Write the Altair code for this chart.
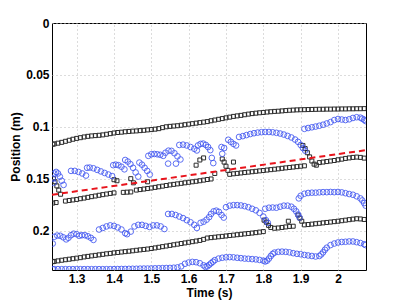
import altair as alt
import pandas as pd

# ---- data (time s, position m) ----
BLACK_TOP = [
    (1.236, 0.1168), (1.24, 0.1165), (1.25, 0.1158), (1.26, 0.1150), (1.27, 0.1140), (1.28, 0.1130),
    (1.29, 0.1120), (1.30, 0.1112), (1.31, 0.1105), (1.32, 0.1098), (1.33, 0.1092), (1.34, 0.1088),
    (1.35, 0.1085), (1.36, 0.1082), (1.37, 0.1078), (1.38, 0.1072), (1.39, 0.1066), (1.40, 0.1060),
    (1.41, 0.1055), (1.42, 0.1052), (1.43, 0.1048), (1.44, 0.1045), (1.45, 0.1042), (1.46, 0.1040),
    (1.47, 0.1037), (1.48, 0.1034), (1.49, 0.1030), (1.50, 0.1027), (1.51, 0.1023), (1.52, 0.1018),
    (1.53, 0.1008), (1.54, 0.1000), (1.55, 0.0996), (1.56, 0.0993), (1.57, 0.0990), (1.58, 0.0985),
    (1.59, 0.0980), (1.60, 0.0975), (1.61, 0.0970), (1.62, 0.0965), (1.63, 0.0960), (1.64, 0.0955),
    (1.65, 0.0950), (1.66, 0.0942), (1.67, 0.0935), (1.68, 0.0928), (1.69, 0.0921), (1.70, 0.0914),
    (1.71, 0.0907), (1.72, 0.0900), (1.73, 0.0895), (1.74, 0.0890), (1.75, 0.0884), (1.76, 0.0878),
    (1.77, 0.0873), (1.78, 0.0869), (1.79, 0.0865), (1.80, 0.0862), (1.81, 0.0858), (1.82, 0.0855),
    (1.83, 0.0852), (1.84, 0.0850), (1.85, 0.0847), (1.86, 0.0844), (1.87, 0.0841), (1.88, 0.0839),
    (1.89, 0.0837), (1.90, 0.0836), (1.91, 0.0835), (1.92, 0.0834), (1.93, 0.0833), (1.94, 0.0832),
    (1.95, 0.0831), (1.96, 0.0831), (1.97, 0.0830), (1.98, 0.0830), (1.99, 0.0829), (2.00, 0.0829),
    (2.01, 0.0828), (2.02, 0.0828), (2.03, 0.0827), (2.04, 0.0827), (2.05, 0.0826), (2.06, 0.0826),
    (2.07, 0.0825),
]

BLACK_MID = [
    (1.236, 0.1735), (1.245, 0.1730),
    (1.27, 0.1716), (1.28, 0.1710), (1.29, 0.1705), (1.30, 0.1700), (1.31, 0.1693), (1.32, 0.1687),
    (1.33, 0.1680), (1.34, 0.1673), (1.35, 0.1667), (1.36, 0.1660), (1.37, 0.1654), (1.38, 0.1648),
    (1.39, 0.1642), (1.40, 0.1637),
    (1.425, 0.1632), (1.435, 0.1630), (1.445, 0.1628),
    (1.46, 0.1610), (1.47, 0.1605), (1.48, 0.1600), (1.49, 0.1595), (1.50, 0.1590), (1.51, 0.1584),
    (1.52, 0.1578), (1.53, 0.1572), (1.54, 0.1566), (1.55, 0.1560), (1.56, 0.1555), (1.57, 0.1550),
    (1.58, 0.1545), (1.59, 0.1540), (1.60, 0.1535), (1.61, 0.1530), (1.62, 0.1525), (1.63, 0.1520),
    (1.64, 0.1514), (1.65, 0.1508), (1.66, 0.1503),
    (1.71, 0.1458), (1.72, 0.1453), (1.73, 0.1449), (1.74, 0.1445), (1.75, 0.1441), (1.76, 0.1437),
    (1.77, 0.1433), (1.78, 0.1429), (1.79, 0.1425), (1.80, 0.1421), (1.81, 0.1417), (1.82, 0.1413),
    (1.83, 0.1409), (1.84, 0.1405), (1.85, 0.1400), (1.86, 0.1396), (1.87, 0.1392), (1.88, 0.1388),
    (1.89, 0.1384), (1.90, 0.1380), (1.91, 0.1376),
    (1.906, 0.1180), (1.912, 0.1210), (1.918, 0.1250), (1.924, 0.1290), (1.930, 0.1330), (1.936, 0.1360),
    (1.942, 0.1370),
    (1.95, 0.1345), (1.96, 0.1340), (1.97, 0.1335), (1.98, 0.1330), (1.99, 0.1325), (2.00, 0.1318),
    (2.01, 0.1312), (2.02, 0.1305), (2.03, 0.1300), (2.04, 0.1295), (2.05, 0.1292), (2.06, 0.1295),
    (2.07, 0.1302),
    # scattered detections
    (1.238, 0.1500), (1.242, 0.1530), (1.247, 0.1570), (1.252, 0.1610), (1.257, 0.1650),
    (1.400, 0.1510), (1.408, 0.1520), (1.445, 0.1500), (1.452, 0.1540), (1.490, 0.1530),
    (1.620, 0.1370), (1.630, 0.1320), (1.640, 0.1300), (1.670, 0.1450),
    (1.690, 0.1310), (1.695, 0.1340), (1.700, 0.1380), (1.705, 0.1420), (1.720, 0.1340),
]

BLACK_LOW = [
    (1.236, 0.2300), (1.24, 0.2297), (1.25, 0.2292), (1.26, 0.2286), (1.27, 0.2281), (1.28, 0.2276),
    (1.29, 0.2271), (1.30, 0.2266), (1.31, 0.2261), (1.32, 0.2254), (1.33, 0.2249), (1.34, 0.2244),
    (1.35, 0.2239), (1.36, 0.2234), (1.37, 0.2229), (1.38, 0.2224), (1.39, 0.2220), (1.40, 0.2215),
    (1.41, 0.2211), (1.42, 0.2207), (1.43, 0.2203), (1.44, 0.2199), (1.45, 0.2195), (1.46, 0.2190),
    (1.47, 0.2186), (1.48, 0.2182), (1.49, 0.2178), (1.50, 0.2173), (1.51, 0.2167), (1.52, 0.2161),
    (1.53, 0.2155), (1.54, 0.2149), (1.55, 0.2143), (1.56, 0.2137), (1.57, 0.2131), (1.58, 0.2125),
    (1.59, 0.2119), (1.60, 0.2113), (1.61, 0.2107), (1.62, 0.2101), (1.63, 0.2095), (1.64, 0.2085),
    (1.65, 0.2072), (1.66, 0.2068), (1.67, 0.2064), (1.68, 0.2060), (1.69, 0.2056), (1.70, 0.2052),
    (1.71, 0.2048), (1.72, 0.2044), (1.73, 0.2040), (1.74, 0.2036), (1.75, 0.2032), (1.76, 0.2028),
    (1.77, 0.2024), (1.78, 0.2020), (1.79, 0.2015), (1.80, 0.2010),
    (1.802, 0.1900), (1.808, 0.1920), (1.814, 0.1950), (1.820, 0.1970),
    (1.83, 0.1978), (1.84, 0.1975), (1.85, 0.1970), (1.86, 0.1965), (1.87, 0.1960), (1.88, 0.1958),
    (1.867, 0.1910), (1.893, 0.1850), (1.898, 0.1880), (1.903, 0.1910),
    (1.91, 0.1945), (1.92, 0.1942), (1.93, 0.1938), (1.94, 0.1934), (1.95, 0.1930), (1.96, 0.1926),
    (1.97, 0.1922), (1.98, 0.1918), (1.99, 0.1914), (2.00, 0.1910), (2.01, 0.1905), (2.02, 0.1900),
    (2.03, 0.1895), (2.04, 0.1890), (2.05, 0.1886), (2.06, 0.1888), (2.07, 0.1893),
]

BLUE_UPPER = [
    (1.236, 0.1500), (1.240, 0.1450), (1.245, 0.1435), (1.250, 0.1450), (1.255, 0.1480), (1.260, 0.1520),
    (1.265, 0.1560), (1.238, 0.1540),
    (1.285, 0.1425), (1.295, 0.1425), (1.305, 0.1435), (1.315, 0.1450), (1.325, 0.1470),
    (1.328, 0.1395), (1.335, 0.1393), (1.345, 0.1400), (1.355, 0.1415), (1.365, 0.1430), (1.375, 0.1445),
    (1.385, 0.1460), (1.395, 0.1475),
    (1.398, 0.1370), (1.405, 0.1365), (1.412, 0.1370), (1.420, 0.1385), (1.428, 0.1410),
    (1.430, 0.1320), (1.437, 0.1335), (1.444, 0.1360), (1.451, 0.1395), (1.458, 0.1440), (1.465, 0.1480),
    (1.468, 0.1345), (1.475, 0.1365), (1.482, 0.1395), (1.489, 0.1425), (1.496, 0.1460),
    (1.492, 0.1280), (1.500, 0.1265), (1.508, 0.1262), (1.516, 0.1265), (1.524, 0.1270), (1.532, 0.1280),
    (1.538, 0.1250), (1.546, 0.1230), (1.554, 0.1232), (1.562, 0.1255), (1.570, 0.1285), (1.578, 0.1315),
    (1.545, 0.1355), (1.566, 0.1355),
    (1.575, 0.1175), (1.585, 0.1172), (1.595, 0.1180), (1.605, 0.1195), (1.615, 0.1212), (1.622, 0.1228),
    (1.625, 0.1180), (1.632, 0.1165), (1.639, 0.1162), (1.646, 0.1175), (1.652, 0.1195), (1.658, 0.1225),
    (1.662, 0.1300), (1.666, 0.1350),
    (1.688, 0.1195), (1.695, 0.1205), (1.690, 0.1260),
    (1.706, 0.1125), (1.713, 0.1145), (1.720, 0.1165), (1.727, 0.1180),
    (1.735, 0.1098), (1.745, 0.1090), (1.755, 0.1080), (1.765, 0.1070), (1.775, 0.1062), (1.785, 0.1056),
    (1.795, 0.1052), (1.805, 0.1050), (1.815, 0.1050), (1.825, 0.1053), (1.835, 0.1058), (1.845, 0.1065),
    (1.855, 0.1075), (1.865, 0.1088), (1.875, 0.1103), (1.885, 0.1123), (1.893, 0.1145), (1.900, 0.1175),
    (1.906, 0.1205), (1.912, 0.1230),
    (1.91, 0.1020), (1.92, 0.1012), (1.93, 0.1005), (1.94, 0.0998), (1.95, 0.0990), (1.96, 0.0980),
    (1.97, 0.0968), (1.98, 0.0955), (1.99, 0.0935), (2.00, 0.0925), (2.01, 0.0930), (2.02, 0.0935),
    (2.03, 0.0928), (2.04, 0.0915), (2.05, 0.0908), (2.06, 0.0912), (2.065, 0.0922), (2.07, 0.0932),
    (2.074, 0.0945),
]

BLUE_LOWER = [
    (1.236, 0.2125), (1.240, 0.2060), (1.248, 0.2048), (1.256, 0.2050), (1.264, 0.2065), (1.272, 0.2085),
    (1.278, 0.2070), (1.285, 0.2045), (1.292, 0.2030), (1.300, 0.2035), (1.307, 0.2050), (1.314, 0.2045),
    (1.322, 0.2045), (1.330, 0.2055), (1.338, 0.2070), (1.345, 0.2090),
    (1.36, 0.1990), (1.37, 0.1975), (1.38, 0.1960), (1.39, 0.1950), (1.40, 0.1955), (1.41, 0.1970),
    (1.42, 0.1990), (1.43, 0.2025), (1.435, 0.2035),
    (1.445, 0.2010), (1.455, 0.1960), (1.465, 0.1945), (1.475, 0.1945), (1.485, 0.1955), (1.495, 0.1965),
    (1.505, 0.1950), (1.515, 0.1950), (1.525, 0.1960), (1.535, 0.1985),
    (1.545, 0.1840), (1.555, 0.1840), (1.565, 0.1850), (1.575, 0.1865), (1.585, 0.1880), (1.595, 0.1900),
    (1.605, 0.1920), (1.615, 0.1945), (1.622, 0.1975),
    (1.632, 0.1925), (1.640, 0.1915), (1.648, 0.1895), (1.655, 0.1870), (1.660, 0.1840), (1.667, 0.1815),
    (1.674, 0.1808), (1.681, 0.1820), (1.688, 0.1850), (1.694, 0.1875),
    (1.70, 0.1775), (1.71, 0.1760), (1.72, 0.1755), (1.73, 0.1755), (1.74, 0.1758), (1.75, 0.1765),
    (1.76, 0.1775), (1.77, 0.1790), (1.78, 0.1805), (1.79, 0.1830), (1.80, 0.1865), (1.807, 0.1900),
    (1.812, 0.1925),
    (1.805, 0.1790), (1.815, 0.1780), (1.825, 0.1778), (1.835, 0.1780), (1.845, 0.1770), (1.855, 0.1760),
    (1.865, 0.1760), (1.875, 0.1770), (1.882, 0.1790), (1.888, 0.1815), (1.893, 0.1845), (1.897, 0.1875),
    (1.895, 0.1690), (1.90, 0.1665), (1.91, 0.1645), (1.92, 0.1638), (1.93, 0.1635), (1.94, 0.1635),
    (1.95, 0.1632), (1.96, 0.1630), (1.97, 0.1630), (1.98, 0.1628), (1.99, 0.1630), (2.00, 0.1628),
    (2.01, 0.1632), (2.02, 0.1640), (2.03, 0.1648), (2.04, 0.1655), (2.05, 0.1670), (2.06, 0.1690),
    (2.065, 0.1710), (2.07, 0.1735), (2.074, 0.1760),
]

BLUE_BOTTOM = [
    (1.236, 0.2372), (1.24, 0.2372), (1.25, 0.2372), (1.26, 0.2372), (1.27, 0.2372), (1.28, 0.2372),
    (1.29, 0.2372), (1.30, 0.2372), (1.31, 0.2372), (1.32, 0.2372), (1.33, 0.2372), (1.34, 0.2372),
    (1.35, 0.2372), (1.36, 0.2372), (1.37, 0.2372), (1.38, 0.2372), (1.39, 0.2372), (1.40, 0.2372),
    (1.41, 0.2371), (1.42, 0.2370), (1.43, 0.2370), (1.44, 0.2369), (1.45, 0.2368), (1.46, 0.2368),
    (1.47, 0.2367), (1.48, 0.2366), (1.49, 0.2366), (1.50, 0.2365), (1.51, 0.2364), (1.52, 0.2363),
    (1.53, 0.2362), (1.54, 0.2361), (1.55, 0.2360), (1.56, 0.2358), (1.57, 0.2355), (1.58, 0.2345),
    (1.59, 0.2320), (1.60, 0.2308), (1.61, 0.2302), (1.62, 0.2305), (1.63, 0.2315), (1.64, 0.2335),
    (1.645, 0.2350), (1.65, 0.2345), (1.655, 0.2330), (1.66, 0.2315), (1.665, 0.2300), (1.67, 0.2285),
    (1.68, 0.2270), (1.69, 0.2262), (1.70, 0.2258), (1.71, 0.2256), (1.72, 0.2258), (1.73, 0.2262),
    (1.74, 0.2266), (1.75, 0.2270), (1.76, 0.2272), (1.77, 0.2275), (1.78, 0.2278), (1.79, 0.2283),
    (1.80, 0.2290), (1.805, 0.2298), (1.81, 0.2290), (1.815, 0.2270), (1.82, 0.2245), (1.825, 0.2225),
    (1.83, 0.2212), (1.84, 0.2205), (1.85, 0.2203), (1.86, 0.2205), (1.87, 0.2210), (1.88, 0.2218),
    (1.89, 0.2224), (1.90, 0.2228), (1.91, 0.2235), (1.92, 0.2240), (1.93, 0.2245), (1.94, 0.2250),
    (1.95, 0.2245), (1.955, 0.2230), (1.96, 0.2210), (1.965, 0.2185), (1.97, 0.2165), (1.98, 0.2140),
    (1.99, 0.2125), (2.00, 0.2115), (2.01, 0.2110), (2.02, 0.2108), (2.03, 0.2105), (2.04, 0.2105),
    (2.05, 0.2112), (2.06, 0.2120), (2.07, 0.2132), (2.074, 0.2140),
]

RED_FIT = [(1.234, 0.1655), (2.075, 0.1225)]

X_TICKS = [1.3, 1.4, 1.5, 1.6, 1.7, 1.8, 1.9, 2.0]
Y_TICKS = [0, 0.05, 0.1, 0.15, 0.2]


def frame(pairs):
    return pd.DataFrame(pairs, columns=["t", "pos"])


x_enc = alt.X(
    "t:Q",
    scale=alt.Scale(domain=[1.234, 2.075], nice=False, zero=False),
    axis=alt.Axis(values=X_TICKS, format="~g", title="Time (s)", labelPadding=3, titlePadding=3),
)
y_enc = alt.Y(
    "pos:Q",
    scale=alt.Scale(domain=[0, 0.238], nice=False, zero=False, reverse=True),
    axis=alt.Axis(values=Y_TICKS, format="~g", title="Position (m)", labelPadding=3, titlePadding=3),
)

square_style = dict(shape="square", filled=False, size=16, color="#2b2b2b", strokeWidth=1, opacity=1, clip=True)
circle_style = dict(shape="circle", filled=False, size=32, color="#3f55f2", strokeWidth=1, opacity=0.85, clip=True)

layers = []
for pairs in (BLACK_TOP, BLACK_MID, BLACK_LOW):
    layers.append(alt.Chart(frame(pairs)).mark_point(**square_style).encode(x=x_enc, y=y_enc))
for pairs in (BLUE_UPPER, BLUE_LOWER, BLUE_BOTTOM):
    layers.append(alt.Chart(frame(pairs)).mark_point(**circle_style).encode(x=x_enc, y=y_enc))
layers.append(
    alt.Chart(frame(RED_FIT)).mark_line(color="#e8141c", strokeWidth=2, strokeDash=[6, 4]).encode(x=x_enc, y=y_enc)
)

chart = (
    alt.layer(*layers)
    .properties(
        width=314,
        height=247,
        autosize=alt.AutoSizeParams(type="none"),
        padding={"left": 44, "top": 15, "right": 31, "bottom": 34},
        background="white",
    )
    .configure_view(stroke="black", strokeWidth=1)
    .configure_axis(
        domain=False,
        ticks=False,
        grid=True,
        gridColor="#b8b8b8",
        gridDash=[1, 3],
        gridWidth=1,
        labelFont="Liberation Sans",
        labelFontSize=12,
        labelFontWeight="bold",
        labelColor="black",
        titleFont="Liberation Sans",
        titleFontSize=12,
        titleFontWeight="bold",
        titleColor="black",
    )
)

chart.save("out.html", embed_options={"renderer": "svg", "actions": False})
